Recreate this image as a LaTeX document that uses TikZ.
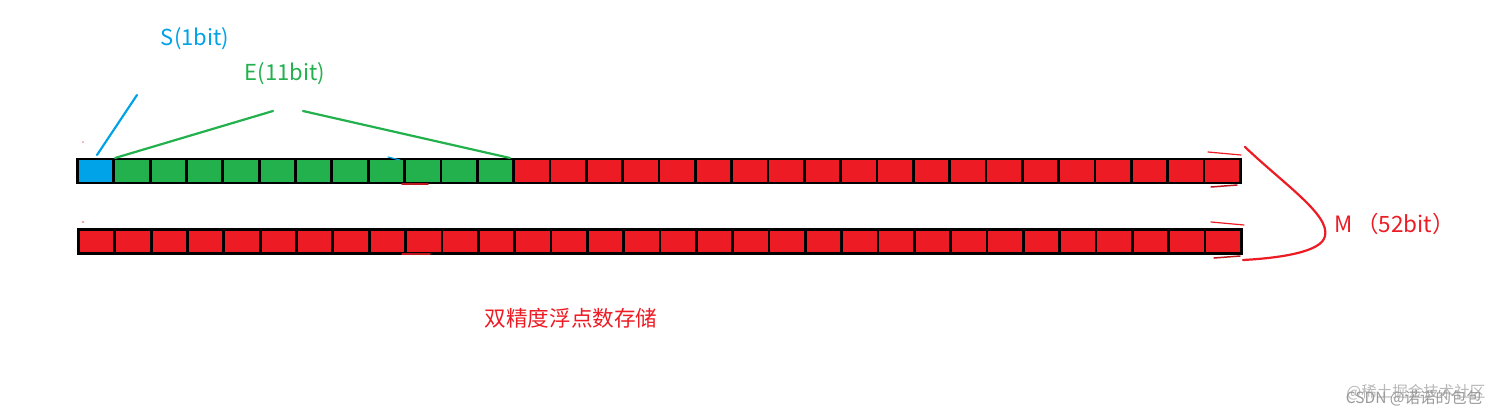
\documentclass[tikz,border=0pt]{standalone}
\usepackage{fontspec}
\newfontfamily\cjk{Noto Sans CJK SC}
\definecolor{pblue}{HTML}{00A2E8}
\definecolor{pgreen}{HTML}{22B14C}
\definecolor{pred}{HTML}{ED1C24}
\definecolor{wm}{HTML}{9A9A9A}
\begin{document}
\begin{tikzpicture}[x=1pt,y=-1pt,
  cell/.style={draw=black,line width=2.8pt,inner sep=0pt,minimum width=36.34pt,minimum height=24pt},
  lbl/.style={font=\cjk\fontsize{22}{24}\selectfont,inner sep=0pt},
  pen/.style={line width=2.2pt,line cap=round},
  strokemark/.style={pred!80!black,line width=1.5pt,line cap=round}]
\useasboundingbox[fill=white] (0,0) rectangle (1512,420);
% row 1
\foreach \i in {0,...,31}{
  \pgfmathsetmacro{\cx}{77.5+36.34*\i+18.17}
  \ifnum\i=0 \def\fc{pblue}\else\ifnum\i<12 \def\fc{pgreen}\else\def\fc{pred}\fi\fi
  \node[cell,fill=\fc] (a\i) at (\cx,171) {};
}
% row 2
\foreach \i in {0,...,31}{
  \pgfmathsetmacro{\cx}{78.5+36.34*\i+18.17}
  \node[cell,fill=pred] (b\i) at (\cx,241.5) {};
}
% labels
\node[lbl,text=pblue] (s) at (195,39) {S(1bit)};
\node[lbl,text=pgreen] (e) at (285,74) {E(11bit)};
\node[lbl,text=pred,font=\cjk\fontsize{22.5}{25}\selectfont,anchor=west] (m) at (1334,224) {M\,（52bit）};
\node[font=\cjk\fontsize{21.6}{24}\selectfont,text=pred,inner sep=0pt] (t) at (571,318) {双精度浮点数存储};
% watermark
\node[font=\cjk\fontsize{15.5}{17}\selectfont,text=wm!70,inner sep=0pt] (w1) at (1416,392) {@稀土掘金技术社区};
\node[font=\cjk\fontsize{15.5}{17}\selectfont,text=wm,inner sep=0pt] (w2) at (1414,398) {CSDN @诺诺的包包};
% pointer lines
\coordinate (sA) at (137,95);
\coordinate (sB) at (97,155);
\coordinate (eL1) at (273,111);
\coordinate (eL2) at (115,158);
\coordinate (eR1) at (303,111);
\coordinate (eR2) at (510,158);
\draw[pen,pblue] (sA) -- (sB);
\draw[pen,pgreen] (eL1) -- (eL2);
\draw[pen,pgreen] (eR1) -- (eR2);
% M bracket
\coordinate (mT) at (1245,147);
\coordinate (mR) at (1325,236);
\coordinate (mB) at (1243,260);
\draw[pen,pred] (mT) .. controls (1285,185) and (1330,215) .. (mR)
  .. controls (1322,252) and (1280,258) .. (mB);
% stray marks
\coordinate (k1) at (388,157); \coordinate (k2) at (400,160);
\draw[pblue,line width=1.2pt,line cap=round] (k1) -- (k2);
\coordinate (r1) at (402,184); \coordinate (r2) at (428,184);
\draw[strokemark] (r1) -- (r2);
\coordinate (r3) at (402,254); \coordinate (r4) at (430,254);
\draw[strokemark] (r3) -- (r4);
\coordinate (r5) at (1208,152); \coordinate (r6) at (1241,155);
\draw[pred,line width=1.2pt,line cap=round] (r5) -- (r6);
\coordinate (r7) at (1211,187); \coordinate (r8) at (1237,185);
\draw[strokemark] (r7) -- (r8);
\coordinate (r9) at (1211,222); \coordinate (r10) at (1244,225);
\draw[pred,line width=1.2pt,line cap=round] (r9) -- (r10);
\coordinate (r11) at (1214,258); \coordinate (r12) at (1240,256);
\draw[strokemark] (r11) -- (r12);
\coordinate (d1) at (83,142); \coordinate (d2) at (83,222);
\fill[pred!60] (d1) circle (0.8pt);
\fill[pred!60] (d2) ellipse (1.5pt and 0.8pt);
\end{tikzpicture}
\end{document}
